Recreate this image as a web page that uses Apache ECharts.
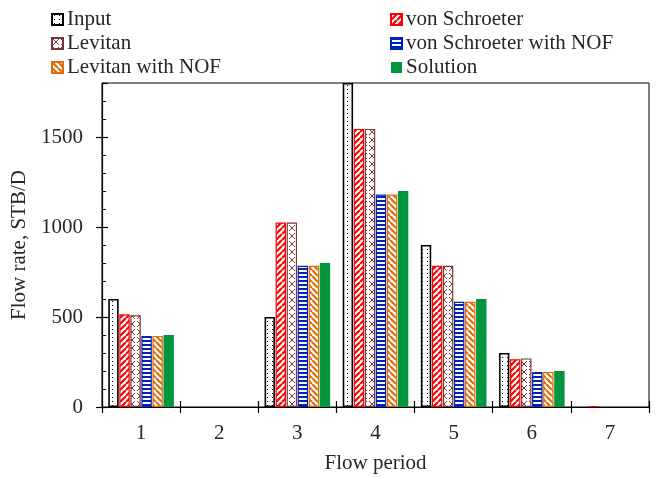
<!DOCTYPE html>
<html>
<head>
<meta charset="utf-8">
<script src="https://cdn.jsdelivr.net/npm/echarts@6/dist/echarts.min.js"></script>
<style>
  html, body { margin: 0; padding: 0; background: #fff; }
  #chart { width: 661px; height: 477px; }
</style>
</head>
<body>
<div id="chart"></div>
<script>
// Flow periods and rates per method (STB/D)
const periods = ['1', '2', '3', '4', '5', '6', '7'];
const inputRates = [600, 0, 500, 1800, 900, 300, 0];
const vonSchroeter = [515, 0, 1025, 1545, 785, 265, 5];
const levitan = [510, 0, 1025, 1545, 785, 270, 0];
const vonSchroeterNOF = [395, 0, 785, 1180, 585, 195, 0];
const levitanNOF = [395, 0, 785, 1180, 585, 195, 0];
const solution = [400, 0, 800, 1200, 600, 200, 0];

const yRange = { min: 0, max: 1800 };
const majorStep = 500;
const minorStep = 100;

// Small canvas tiles used as hatch fills
function tile(w, h, draw) {
  const c = document.createElement('canvas');
  c.width = w; c.height = h;
  const g = c.getContext('2d');
  g.fillStyle = '#ffffff';
  g.fillRect(0, 0, w, h);
  draw(g, w, h);
  return { image: c, repeat: 'repeat' };
}
const dotFill = tile(5, 4, (g) => { g.fillStyle = '#000'; g.fillRect(2, 1, 1, 1); });
const slashFill = (color) => tile(6, 6, (g, w, h) => {
  g.strokeStyle = color; g.lineWidth = 2.2;
  g.beginPath();
  for (let k = -1; k <= 1; k++) { g.moveTo(k * w, h); g.lineTo(k * w + w, 0); }
  g.stroke();
});
const backFill = (color) => tile(6, 6, (g, w, h) => {
  g.strokeStyle = color; g.lineWidth = 2.2;
  g.beginPath();
  for (let k = -1; k <= 1; k++) { g.moveTo(k * w, 0); g.lineTo(k * w + w, h); }
  g.stroke();
});
const crossFill = (color) => tile(8, 8, (g) => {
  g.strokeStyle = color; g.lineWidth = 1;
  g.beginPath();
  g.moveTo(1, 1); g.lineTo(7, 7);
  g.moveTo(7, 1); g.lineTo(1, 7);
  g.stroke();
});
const hStripeFill = (color) => tile(4, 4, (g) => { g.fillStyle = color; g.fillRect(0, 0, 4, 2); });

const RED = '#ff0000', BROWN = '#7b3535', BLUE = '#0022bb', ORANGE = '#e36c0a', GREEN = '#00963f';
const font = 'Liberation Serif';
const TXT = '#262626';

// zero rates are left undrawn
const shown = (arr) => arr.map(v => (v === 0 ? '-' : v));

function bar(name, data, fill, border, bw) {
  return {
    name, type: 'bar', data: shown(data),
    barGap: '6%', barCategoryGap: '16%',
    itemStyle: { color: fill, borderColor: border, borderWidth: border ? bw : 0 }
  };
}

const tickLine = { color: '#000', width: 1.2 };
const legendText = { fontFamily: font, fontSize: 21, color: TXT, padding: [0, 0, 0, -1] };

const chart = echarts.init(document.getElementById('chart'), null, { renderer: 'canvas' });
chart.setOption({
  animation: false,
  textStyle: { fontFamily: font },
  grid: {
    left: 102, right: 12, top: 83, bottom: 70, outerBoundsMode: 'none', containLabel: false,
    show: true, borderColor: '#000', borderWidth: 1
  },
  legend: [
    {
      orient: 'vertical', left: 51, top: 9, padding: 0, itemGap: 3, itemWidth: 11, itemHeight: 11,
      icon: 'rect', textStyle: legendText,
      data: ['Input', 'Levitan', 'Levitan with NOF']
    },
    {
      orient: 'vertical', left: 390, top: 9, padding: 0, itemGap: 3, itemWidth: 11, itemHeight: 11,
      icon: 'rect', textStyle: legendText,
      data: ['von Schroeter', 'von Schroeter with NOF', 'Solution']
    }
  ],
  xAxis: [
    {
      type: 'category', data: periods, position: 'bottom',
      name: 'Flow period', nameLocation: 'middle', nameGap: 46,
      nameTextStyle: { fontFamily: font, fontSize: 21, color: TXT },
      axisLine: { lineStyle: { color: '#000', width: 1.2 } },
      axisTick: { show: true, inside: false, length: 6, lineStyle: tickLine },
      axisLabel: { fontFamily: font, fontSize: 21, color: TXT, margin: 16 }
    },
    {
      type: 'category', data: periods, position: 'bottom', gridIndex: 0,
      axisLine: { show: false },
      axisTick: { show: true, inside: true, length: 6, lineStyle: tickLine },
      axisLabel: { show: false }
    }
  ],
  yAxis: [
    {
      type: 'value', min: yRange.min, max: yRange.max, interval: majorStep,
      name: 'Flow rate, STB/D', nameLocation: 'middle', nameGap: 67,
      nameTextStyle: { fontFamily: font, fontSize: 21, color: TXT },
      axisLine: { show: true, lineStyle: { color: '#000', width: 1.2 } },
      axisTick: { show: true, inside: false, length: 6, lineStyle: tickLine },
      axisLabel: { fontFamily: font, fontSize: 21, color: TXT, margin: 19, showMaxLabel: false,
                   formatter: (v) => String(v) },
      splitLine: { show: false }
    },
    {
      type: 'value', min: yRange.min, max: yRange.max, interval: majorStep, position: 'left',
      axisLine: { show: false },
      axisTick: { show: true, inside: true, length: 6, lineStyle: tickLine },
      axisLabel: { show: false },
      splitLine: { show: false }
    },
    {
      type: 'value', min: yRange.min, max: yRange.max, interval: minorStep, position: 'left',
      axisLine: { show: false },
      axisTick: { show: true, inside: true, length: 4, lineStyle: { color: '#000', width: 1 } },
      axisLabel: { show: false },
      splitLine: { show: false }
    }
  ],
  series: [
    bar('Input', inputRates, dotFill, '#000', 1.6),
    bar('von Schroeter', vonSchroeter, slashFill(RED), RED, 1.2),
    bar('Levitan', levitan, crossFill(BROWN), BROWN, 1.2),
    bar('von Schroeter with NOF', vonSchroeterNOF, hStripeFill(BLUE), BLUE, 1.2),
    bar('Levitan with NOF', levitanNOF, backFill(ORANGE), ORANGE, 1.2),
    bar('Solution', solution, GREEN, null, 0)
  ]
});
</script>
</body>
</html>
